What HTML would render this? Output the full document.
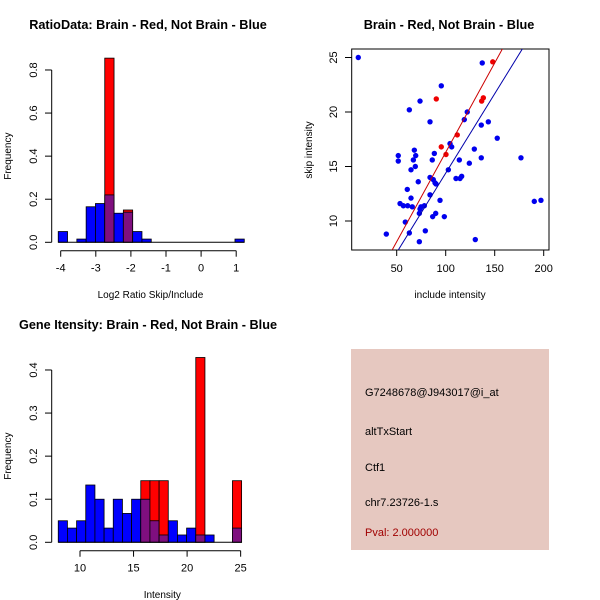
<!DOCTYPE html>
<html><head><meta charset="utf-8"><style>
body{margin:0;background:#fff}
svg{display:block;font-family:"Liberation Sans",sans-serif}
</style></head><body>
<svg id="c" width="600" height="600" viewBox="0 0 600 600">
<rect width="600" height="600" fill="#fff"/>
<g id="g1"></g>
<g id="g2"></g>
<g id="g3"></g>
<g id="g4">
<rect x="351" y="349" width="198" height="201" fill="#e6c8c0"/>
<text x="365" y="396" font-size="11">G7248678@J943017@i_at</text>
<text x="365" y="435" font-size="11">altTxStart</text>
<text x="365" y="471" font-size="11">Ctf1</text>
<text x="365" y="506" font-size="11">chr7.23726-1.s</text>
<text x="365" y="536" font-size="11" fill="#a00000">Pval: 2.000000</text>
</g>
</svg>
<script>
const NS="http://www.w3.org/2000/svg";
// Ratio histogram data
const ratioStart=-4.07, ratioWidth=0.265;
const ratioBlue=[0.05,0,0.015,0.165,0.18,0.22,0.135,0.14,0.05,0.015,0,0,0,0,0,0,0,0,0,0.015];
const ratioRed=[0,0,0,0,0,0.855,0,0.15,0,0,0,0,0,0,0,0,0,0,0,0];
const ratioXTicks=[-4,-3,-2,-1,0,1];
const ratioYTicks=[0,0.2,0.4,0.6,0.8];
// Intensity histogram data
const intStart=7.97, intWidth=0.856;
const intBlue=[0.05,0.033,0.05,0.133,0.1,0.033,0.1,0.067,0.1,0.1,0.05,0.017,0.05,0.017,0.033,0.017,0.017,0,0,0.033];
const intRed=[0,0,0,0,0,0,0,0,0,0.143,0.143,0.143,0,0,0,0.429,0,0,0,0.143];
const intXTicks=[10,15,20,25];
const intYTicks=[0,0.1,0.2,0.3,0.4];
// Scatter data
const blueX=[10.8,137.3,95.5,73.8,62.9,122,119,84,143.5,136.3,152.6,104.4,106.1,68,51.6,129.2,88.4,69.4,51.6,67,86.3,113.9,136.3,176.8,124.1,69,64.6,102.7,84,87.3,110.5,116.3,114.6,89.1,90.1,72,60.8,84,64.6,94.2,53.4,56.8,61.2,65.9,74.8,78.2,73.8,73.1,89.8,86.7,98.6,58.8,190.4,197.2,39.4,62.9,79.2,73.1,130.2];
const blueY=[25,24.5,22.4,21,20.2,20,19.3,19.1,19.1,18.8,17.6,17.1,16.8,16.5,16,16.6,16.2,16,15.5,15.6,15.6,15.6,15.8,15.8,15.3,15,14.7,14.7,14,13.8,13.9,14.1,13.9,13.5,13.4,13.6,12.9,12.4,12.1,11.9,11.6,11.4,11.4,11.3,11.3,11.4,11.1,10.7,10.7,10.4,10.4,9.9,11.8,11.9,8.8,8.9,9.1,8.1,8.3];
const redX=[148,90.4,138.4,136.7,111.8,95.5,100.3];
const redY=[24.6,21.2,21.3,21,17.9,16.8,16.1];
const redFit=[-0.1,0.164];
const blueFit=[-0.18,0.1457];
const scXTicks=[50,100,150,200];
const scYTicks=[10,15,20,25];

function mk(parent,tag,attrs,name,text){
  const e=document.createElementNS(NS,tag);
  for(const k in attrs)e.setAttribute(k,attrs[k]);
  
  
  if(text!==undefined)e.textContent=text;
  parent.appendChild(e);return e;
}
function hist(g,start,w,blue,red,xs,ys,xTicks,yTicks,axisY,title,titleX,titleY,xlabel,xlabelY){
  const n=blue.length;
  for(let i=0;i<n;i++){
    const x0=xs(start+i*w),x1=xs(start+(i+1)*w);
    const b=blue[i],r=red[i];
    if(r>0) mk(g,'rect',{x:x0,y:ys(r),width:x1-x0,height:ys(0)-ys(r),fill:'#ff0000',stroke:'#000','stroke-width':0.8},'red-bar');
    if(b>0){
      const m=Math.min(b,r);
      if(b>m) mk(g,'rect',{x:x0,y:ys(b),width:x1-x0,height:ys(m)-ys(b),fill:'#0000ff',stroke:'#000','stroke-width':0.8},'blue-bar');
      if(m>0) mk(g,'rect',{x:x0,y:ys(m),width:x1-x0,height:ys(0)-ys(m),fill:'#7f0f7f',stroke:'#000','stroke-width':0.8},'overlap-bar');
    }
  }
  mk(g,'line',{x1:xs(start),x2:xs(start+n*w),y1:ys(0),y2:ys(0),stroke:'#000'},'baseline');
  mk(g,'line',{x1:51.7,x2:51.7,y1:ys(yTicks[0]),y2:ys(yTicks[yTicks.length-1]),stroke:'#000'},'y-axis');
  yTicks.forEach(t=>{
    mk(g,'line',{x1:45,x2:51.7,y1:ys(t),y2:ys(t),stroke:'#000'},'y-tick');
    mk(g,'text',{x:0,y:0,transform:`translate(37,${ys(t)}) rotate(-90)`,'text-anchor':'middle','font-size':11},'y-tick-label',t.toFixed(1));
  });
  mk(g,'line',{x1:xs(xTicks[0]),x2:xs(xTicks[xTicks.length-1]),y1:axisY,y2:axisY,stroke:'#000'},'x-axis');
  xTicks.forEach(t=>{
    mk(g,'line',{x1:xs(t),x2:xs(t),y1:axisY,y2:axisY+6,stroke:'#000'},'x-tick');
    mk(g,'text',{x:xs(t),y:axisY+21,'text-anchor':'middle','font-size':11},'x-tick-label',String(t));
  });
  mk(g,'text',{x:titleX,y:titleY,'text-anchor':'middle','font-size':12.7,'font-weight':'bold'},'chart-title',title);
  mk(g,'text',{x:(xs(xTicks[0])+xs(xTicks[xTicks.length-1]))/2+2,y:xlabelY,'text-anchor':'middle','font-size':10},'x-axis-title',xlabel);
  mk(g,'text',{x:0,y:0,transform:`translate(11,${(ys(yTicks[0])+ys(yTicks[yTicks.length-1]))/2}) rotate(-90)`,'text-anchor':'middle','font-size':10},'y-axis-title','Frequency');
}
const g1=document.getElementById('g1');
hist(g1,ratioStart,ratioWidth,ratioBlue,ratioRed,v=>60.7+(v+4)*35.1,v=>242.3-v*215.4,ratioXTicks,ratioYTicks,250.7,'RatioData: Brain - Red, Not Brain - Blue',148,29,'Log2 Ratio Skip/Include',298);
const g3=document.getElementById('g3');
hist(g3,intStart,intWidth,intBlue,intRed,v=>80+(v-10)*10.71,v=>542.3-v*430.8,intXTicks,intYTicks,550.7,'Gene Itensity: Brain - Red, Not Brain - Blue',148,329,'Intensity',598);

// Scatter
const g2=document.getElementById('g2');
const sx=v=>396.7+(v-50)*0.98, sy=v=>221-(v-10)*10.9;
const clip=mk(g2,'clipPath',{id:'scclip'},'plot-clip');
mk(clip,'rect',{x:351.7,y:49,width:197.3,height:201},'clip-rect');
mk(g2,'rect',{x:351.7,y:49,width:197.3,height:201,fill:'none',stroke:'#000'},'plot-frame');
const pts=mk(g2,'g',{'clip-path':'url(#scclip)'},'points');
blueX.forEach((x,i)=>mk(pts,'circle',{cx:sx(x),cy:sy(blueY[i]),r:2.7,fill:'#0000ee'},'blue-point'));
redX.forEach((x,i)=>mk(pts,'circle',{cx:sx(x),cy:sy(redY[i]),r:2.7,fill:'#ee0000'},'red-point'));
[[redFit,'#cc0000','red-fit-line'],[blueFit,'#0000aa','blue-fit-line']].forEach(([f,c,nm])=>{
  mk(pts,'line',{x1:sx(0),y1:sy(f[0]),x2:sx(250),y2:sy(f[0]+f[1]*250),stroke:c,'stroke-width':1},nm);
});
scXTicks.forEach(t=>{
  mk(g2,'line',{x1:sx(t),x2:sx(t),y1:250,y2:256,stroke:'#000'},'x-tick');
  mk(g2,'text',{x:sx(t),y:272,'text-anchor':'middle','font-size':11},'x-tick-label',String(t));
});
scYTicks.forEach(t=>{
  mk(g2,'line',{x1:345,x2:351.7,y1:sy(t),y2:sy(t),stroke:'#000'},'y-tick');
  mk(g2,'text',{x:0,y:0,transform:`translate(337,${sy(t)}) rotate(-90)`,'text-anchor':'middle','font-size':11},'y-tick-label',String(t));
});
mk(g2,'text',{x:449,y:29,'text-anchor':'middle','font-size':12.7,'font-weight':'bold'},'chart-title','Brain - Red, Not Brain - Blue');
mk(g2,'text',{x:450,y:298,'text-anchor':'middle','font-size':10},'x-axis-title','include intensity');
mk(g2,'text',{x:0,y:0,transform:'translate(312,150) rotate(-90)','text-anchor':'middle','font-size':10},'y-axis-title','skip intensity');
</script>
</body></html>
